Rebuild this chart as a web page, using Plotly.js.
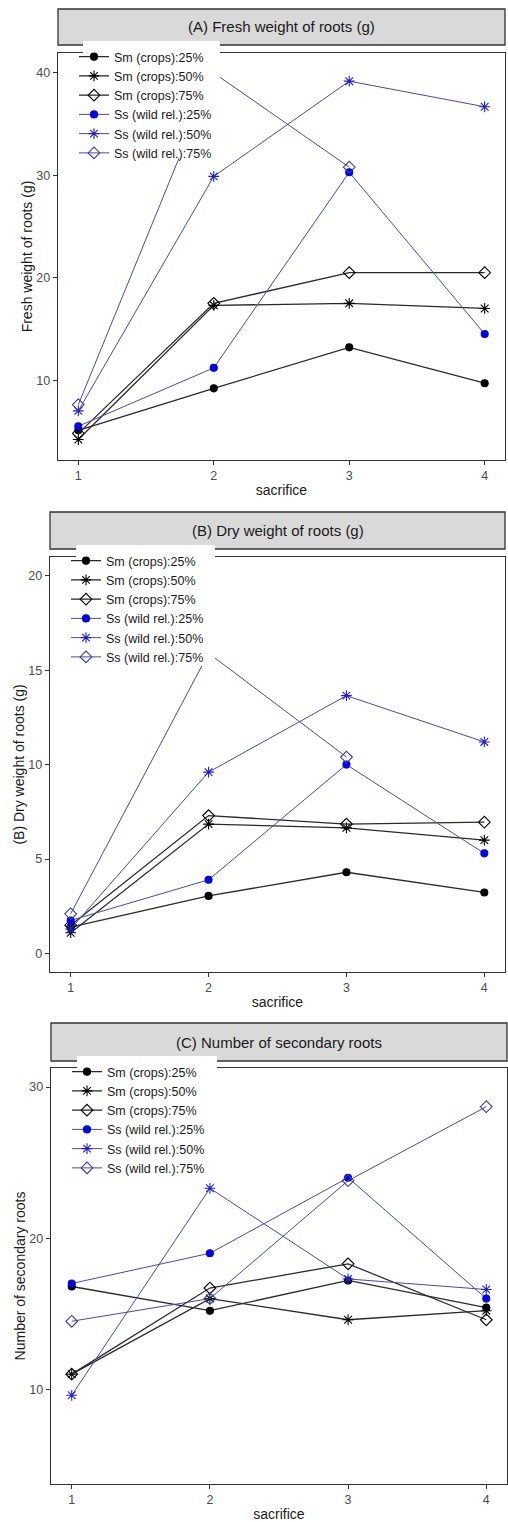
<!DOCTYPE html>
<html>
<head>
<meta charset="utf-8">
<script src="https://cdn.plot.ly/plotly-3.0.1.min.js"></script>
<style>html,body{margin:0;padding:0;background:#fff;}#chart{width:508px;height:1522px;}</style>
</head>
<body>
<div id="chart"></div>
<script>
// ---------- data ----------
const sacrifice = [1, 2, 3, 4];
const seriesNames = ['Sm (crops):25%', 'Sm (crops):50%', 'Sm (crops):75%',
                     'Ss (wild rel.):25%', 'Ss (wild rel.):50%', 'Ss (wild rel.):75%'];
const panelTitles = ['(A) Fresh weight of roots (g)', '(B) Dry weight of roots (g)', '(C) Number of secondary roots'];
const yTitles = ['Fresh weight of roots (g)', '(B) Dry weight of roots (g)', 'Number of secondary roots'];
const xTitle = 'sacrifice';

// (A) fresh weight of roots (g)
const fresh_Sm25 = [5.1, 9.2, 13.2, 9.7];
const fresh_Sm50 = [4.2, 17.3, 17.5, 17.0];
const fresh_Sm75 = [4.8, 17.5, 20.5, 20.5];
const fresh_Ss25 = [5.5, 11.2, 30.3, 14.5];
const fresh_Ss50 = [7.0, 29.9, 39.2, 36.7];
const fresh_Ss75 = [7.6, 40.0, 30.8, null];

// (B) dry weight of roots (g)
const dry_Sm25 = [1.4, 3.05, 4.3, 3.23];
const dry_Sm50 = [1.1, 6.85, 6.65, 6.0];
const dry_Sm75 = [1.5, 7.3, 6.85, 6.95];
const dry_Ss25 = [1.75, 3.9, 10.0, 5.3];
const dry_Ss50 = [1.3, 9.6, 13.65, 11.2];
const dry_Ss75 = [2.1, 15.9, 10.4, null];

// (C) number of secondary roots
const roots_Sm25 = [16.8, 15.2, 17.2, 15.4];
const roots_Sm50 = [11.0, 16.0, 14.6, 15.2];
const roots_Sm75 = [11.0, 16.7, 18.3, 14.6];
const roots_Ss25 = [17.0, 19.0, 24.0, 16.0];
const roots_Ss50 = [9.6, 23.3, 17.3, 16.6];
const roots_Ss75 = [14.5, 16.0, 23.8, 28.7];

const yTickVals = [[10, 20, 30, 40], [0, 5, 10, 15, 20], [10, 20, 30]];

// ---------- styling ----------
const panels = [
  [fresh_Sm25, fresh_Sm50, fresh_Sm75, fresh_Ss25, fresh_Ss50, fresh_Ss75],
  [dry_Sm25, dry_Sm50, dry_Sm75, dry_Ss25, dry_Ss50, dry_Ss75],
  [roots_Sm25, roots_Sm50, roots_Sm75, roots_Ss25, roots_Ss50, roots_Ss75]
];
const symbols = ['circle', 'asterisk-open', 'diamond-open', 'circle', 'asterisk-open', 'diamond-open'];
const markerColors = ['#000000', '#000000', '#000000', '#0000ee', '#1f1fd0', '#3a3aa6'];
const lineColors = ['#2a2a2a', '#2a2a2a', '#2a2a2a', '#4a4aa4', '#4a4aa4', '#4a4aa4'];
const lineWidths = [1.3, 1.3, 1.3, 1.0, 1.0, 1.0];
const markerSizes = [7, 9, 9, 7, 9, 9];

const H = 1522, W = 508;
const fx = px => px / W;
const fy = py => 1 - py / H;

// plot-box geometry (pixels) per panel, plus white legend-key area
const boxes = [
  {l: 58, r: 505, t: 53, b: 460, st: 9, sb: 45, yr: [2.2, 41.95], legTop: 42,
   kb: {x0: 83, x1: 220, y0: 41, y1: 158}},
  {l: 50, r: 505, t: 557, b: 972, st: 512, sb: 549, yr: [-0.98, 20.99], legTop: 546,
   kb: {x0: 76, x1: 215, y0: 545, y1: 666}},
  {l: 51, r: 507, t: 1068, b: 1484, st: 1023, sb: 1061, yr: [3.73, 31.26], legTop: 1057,
   kb: {x0: 77, x1: 217, y0: 1056, y1: 1177}}
];

const traces = [];
panels.forEach((series, p) => {
  const sfx = p === 0 ? '' : String(p + 1);
  series.forEach((vals, s) => {
    traces.push({
      x: sacrifice, y: vals, name: seriesNames[s],
      xaxis: 'x' + sfx, yaxis: 'y' + sfx,
      legend: 'legend' + sfx,
      type: 'scatter', mode: 'lines+markers',
      line: {color: lineColors[s], width: lineWidths[s]},
      marker: {symbol: symbols[s], size: markerSizes[s], color: markerColors[s],
               line: {color: markerColors[s], width: 1.1}},
      hoverinfo: 'x+y+name'
    });
  });
});

const layout = {
  width: W, height: H,
  margin: {l: 0, r: 0, t: 0, b: 0},
  paper_bgcolor: '#ffffff', plot_bgcolor: '#ffffff',
  font: {family: 'Liberation Sans, Arial, sans-serif', color: '#1a1a1a'},
  showlegend: true,
  shapes: [], annotations: []
};

boxes.forEach((bx, p) => {
  const sfx = p === 0 ? '' : String(p + 1);
  layout['xaxis' + sfx] = {
    domain: [fx(bx.l), fx(bx.r)], anchor: 'y' + sfx,
    range: [0.85, 4.15], tickvals: sacrifice, ticktext: sacrifice.map(String),
    showgrid: false, zeroline: false,
    showline: true, mirror: true, linecolor: '#333333', linewidth: 1.3,
    ticks: 'outside', ticklen: 4, tickcolor: '#333333', tickwidth: 1,
    tickfont: {size: 12.5, color: '#4d4d4d'},
    title: {text: xTitle, font: {size: 14, color: '#1a1a1a'}, standoff: 3}
  };
  layout['yaxis' + sfx] = {
    domain: [fy(bx.b), fy(bx.t)], anchor: 'x' + sfx,
    range: bx.yr, tickvals: yTickVals[p],
    showgrid: false, zeroline: false,
    showline: true, mirror: true, linecolor: '#333333', linewidth: 1.3,
    ticks: 'outside', ticklen: 4, tickcolor: '#333333', tickwidth: 1,
    tickfont: {size: 12.5, color: '#4d4d4d'},
    title: {text: yTitles[p], font: {size: 14, color: '#1a1a1a'}, standoff: 0}
  };
  layout['legend' + sfx] = {
    x: fx(bx.l + 16), xanchor: 'left',
    y: fy(bx.legTop), yanchor: 'top',
    bgcolor: 'rgba(255,255,255,0)', borderwidth: 0,
    font: {size: 12.5, color: '#1a1a1a'},
    tracegroupgap: 0, itemwidth: 30
  };
  // strip (facet header)
  layout.shapes.push({
    type: 'rect', xref: 'paper', yref: 'paper',
    x0: fx(bx.l), x1: fx(bx.r), y0: fy(bx.sb), y1: fy(bx.st),
    fillcolor: '#d9d9d9', line: {color: '#333333', width: 1.3}, layer: 'below'
  });
  // white legend background, drawn above the data like the original key box
  layout.shapes.push({
    type: 'rect', xref: 'paper', yref: 'paper',
    x0: fx(bx.kb.x0), x1: fx(bx.kb.x1), y0: fy(bx.kb.y1), y1: fy(bx.kb.y0),
    fillcolor: '#ffffff', line: {width: 0}, layer: 'above'
  });
  layout.annotations.push({
    xref: 'paper', yref: 'paper',
    x: (fx(bx.l) + fx(bx.r)) / 2, y: (fy(bx.sb) + fy(bx.st)) / 2,
    xanchor: 'center', yanchor: 'middle', showarrow: false,
    text: panelTitles[p], font: {size: 15, color: '#1a1a1a'}
  });
});

Plotly.newPlot('chart', traces, layout, {displayModeBar: false, staticPlot: true});
</script>
</body>
</html>
